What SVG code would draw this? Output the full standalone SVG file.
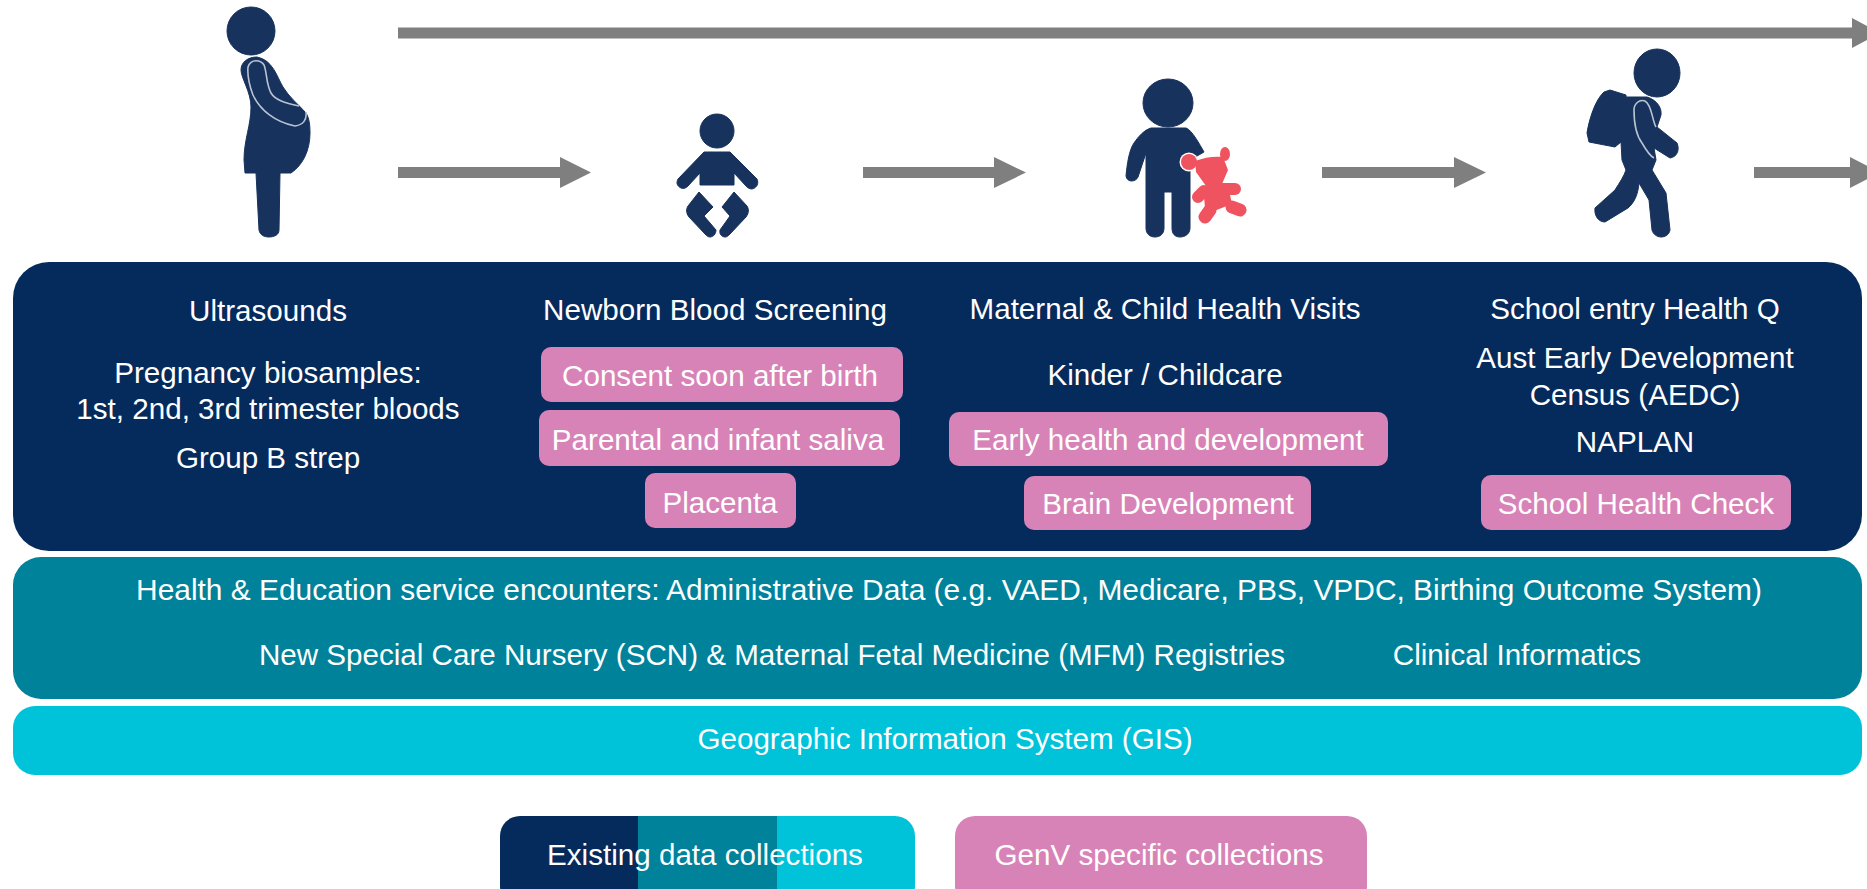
<svg xmlns="http://www.w3.org/2000/svg" width="1867" height="889" viewBox="0 0 1867 889">
<defs>
<style>
text{font-family:"Liberation Sans",Arial,sans-serif;font-size:29.600px;fill:#fff;text-anchor:middle}
.pink{fill:#D883B7}
.ico{fill:#17325C;stroke:#17325C;stroke-width:1;stroke-linejoin:round}
.ln{fill:none;stroke:#B9C3D2;stroke-width:1.6}
.ar{fill:#7F7F7F}
.bear{fill:#EF5360}
.limb{fill:none;stroke:#EF5360;stroke-linecap:round}
</style>
<clipPath id="legendClip"><rect x="500" y="816" width="415" height="90" rx="20"/></clipPath>
</defs>
<rect width="1867" height="889" fill="#fff"/>
<g id="connectors">
<path class="ar" d="M398 27.500H1852V18L1880 33L1852 48V38.500H398Z"/>
<path class="ar" d="M398 167H560V157L591 172.500L560 188V178H398Z"/>
<path class="ar" d="M863 167H994V157L1026 172.500L994 188V178H863Z"/>
<path class="ar" d="M1322 167H1454V157L1486 172.500L1454 188V178H1322Z"/>
<path class="ar" d="M1754 167H1850V157L1880 172.500L1850 188V178H1754Z"/>
</g>
<g id="icon-pregnant">
<ellipse class="ico" cx="251" cy="31" rx="24" ry="24"/>
<path class="ico" d="M257 57C248 57 241 62 241 70C241 78 251 92 251 107C251 125 244 140 244 160L245 173H256L259 230C260 235 264 237 269 237C274 237 279 235 279 230L280 173H291C303 165 310 150 310 133C310 124 309 118 306 113C298 104 289 97 283 87C277 77 273 60 257 57Z"/>
<path class="ln" d="M299 106C285 103 275 100 271 93C266 84 267 72 264 65C261 60 251 58 248 67C247 78 250 87 253 95C260 110 275 122 295 126C303 125 307 120 306 112"/>
</g>
<g id="icon-baby">
<ellipse class="ico" cx="717" cy="131" rx="17" ry="17"/>
<path class="ico" d="M704 152H730L757 179C759 183 757 188 752 189C749 189 747 187 746 186L734 173V185H700V173L688 186C686 188 684 189 681 188C677 186 676 183 678 179Z"/>
<path class="ico" d="M699 192L713 207L704 216L716 230C716 234 713 237 710 237C708 237 707 236 705 234L689 217C686 213 686 209 688 206Z"/>
<path class="ico" d="M734 192L722 207L730 216L720 230C719 234 722 237 725 237C727 237 728 236 730 234L746 217C749 213 749 209 747 206Z"/>
</g>
<g id="icon-child">
<ellipse class="ico" cx="1168" cy="103" rx="25" ry="24"/>
<path class="ico" d="M1151 128H1186C1192 130 1200 145 1204 152L1190 160V228C1190 234 1185 237 1180 237C1175 237 1172 234 1172 228V192H1164V228C1164 234 1160 237 1155 237C1150 237 1146 234 1146 228V153L1138 177C1136 182 1127 183 1126 176C1127 165 1129 150 1134 143C1138 137 1144 130 1151 128Z"/>
<circle cx="1189" cy="162" r="9.500" fill="#fff"/>
<circle class="bear" cx="1189" cy="162" r="8"/>
<ellipse class="bear" cx="1225" cy="154" rx="5" ry="7"/>
<path class="bear" d="M1195 161C1205 157 1215 156 1223 157L1228 170L1222 184L1230 195L1232 204L1214 211L1205 208L1204 196L1206 186L1196 172Z"/>
<path class="limb" stroke-width="12" d="M1222 189H1235"/>
<path class="limb" stroke-width="12" d="M1204 191L1198 197"/>
<path class="limb" stroke-width="13" d="M1232 207L1240 210"/>
<path class="limb" stroke-width="13" d="M1210 210L1205 217"/>
</g>
<g id="icon-school">
<ellipse class="ico" cx="1657" cy="73" rx="23" ry="24"/>
<path class="ico" d="M1610 90L1626 95V97H1647C1657 100 1662 108 1661 115L1657 127L1677 143C1680 150 1677 157 1670 158L1654 148L1656 160L1652 170L1666 193L1670 230C1669 235 1665 237 1661 237C1657 237 1653 234 1652 230L1649 200L1639 183C1638 195 1634 203 1628 208L1605 222C1598 222 1594 215 1595 208L1615 190C1620 182 1624 176 1626 170L1622 160L1621 142L1615 147L1589 142L1587 133C1589 120 1595 100 1604 92Z"/>
<path class="ln" stroke-width="1.200" d="M1656 127C1652 120 1652 105 1645 101C1639 99 1634 104 1634 110C1634 125 1636 135 1642 143C1646 150 1650 156 1654 158"/>
</g>
<g id="panel-navy">
<rect x="13" y="262" width="1849" height="289" rx="36" fill="#052B5C"/>
<text x="268" y="321">Ultrasounds</text>
<text x="268" y="383">Pregnancy biosamples:</text>
<text x="268" y="419">1st, 2nd, 3rd trimester bloods</text>
<text x="268" y="468">Group B strep</text>
</g>
<g id="col-newborn">
<text x="715" y="320">Newborn Blood Screening</text>
<rect class="pink" x="541" y="347" width="362" height="55" rx="10"/>
<text x="720" y="386">Consent soon after birth</text>
<rect class="pink" x="539" y="410" width="361" height="56" rx="10"/>
<text x="718" y="450">Parental and infant saliva</text>
<rect class="pink" x="645" y="473" width="151" height="55" rx="10"/>
<text x="720" y="513">Placenta</text>
</g>
<g id="col-maternal">
<text x="1165" y="319">Maternal &amp; Child Health Visits</text>
<text x="1165" y="385">Kinder / Childcare</text>
<rect class="pink" x="949" y="412" width="439" height="54" rx="10"/>
<text x="1168" y="450">Early health and development</text>
<rect class="pink" x="1024" y="476" width="287" height="54" rx="10"/>
<text x="1168" y="514">Brain Development</text>
</g>
<g id="col-school">
<text x="1635" y="319">School entry Health Q</text>
<text x="1635" y="368">Aust Early Development</text>
<text x="1635" y="405">Census (AEDC)</text>
<text x="1635" y="452">NAPLAN</text>
<rect class="pink" x="1481" y="475" width="310" height="55" rx="10"/>
<text x="1636" y="514">School Health Check</text>
</g>
<g id="panel-teal">
<rect x="13" y="557" width="1849" height="142" rx="28" fill="#00829B"/>
<text x="949" y="600" style="font-size:29.900px">Health &amp; Education service encounters: Administrative Data (e.g. VAED, Medicare, PBS, VPDC, Birthing Outcome System)</text>
<text x="772" y="665">New Special Care Nursery (SCN) &amp; Maternal Fetal Medicine (MFM) Registries</text>
<text x="1517" y="665">Clinical Informatics</text>
</g>
<g id="panel-cyan">
<rect x="13" y="706" width="1849" height="69" rx="22" fill="#00C3DA"/>
<text x="945" y="749">Geographic Information System (GIS)</text>
</g>
<g id="legend-existing">
<g clip-path="url(#legendClip)">
<rect x="500" y="816" width="138" height="90" fill="#052B5C"/>
<rect x="638" y="816" width="139" height="90" fill="#00829B"/>
<rect x="777" y="816" width="138" height="90" fill="#00C3DA"/>
</g>
<text x="705" y="865">Existing data collections</text>
</g>
<g id="legend-genv">
<rect class="pink" x="955" y="816" width="412" height="90" rx="20"/>
<text x="1159" y="865">GenV specific collections</text>
</g>
</svg>
